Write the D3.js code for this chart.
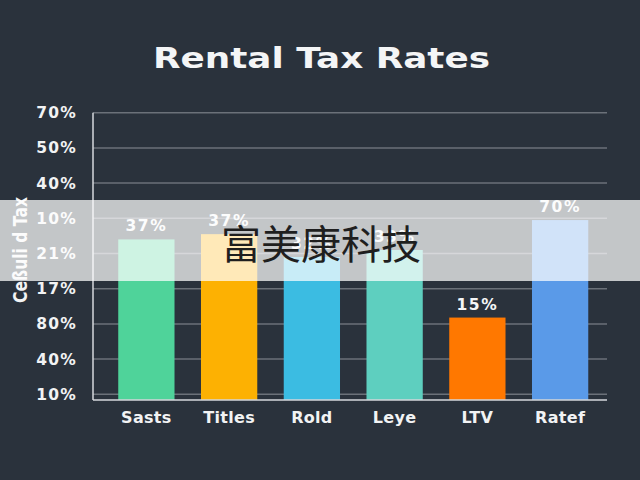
<!DOCTYPE html>
<html>
<head>
<meta charset="utf-8">
<script src="https://cdn.jsdelivr.net/npm/d3@7"></script>
<style>
html,body{margin:0;padding:0;background:#2a323c;}
svg{display:block;}
text{font-family:"DejaVu Sans",sans-serif;font-weight:bold;}
</style>
</head>
<body>
<script>
const title = "Rental Tax Rates";
const yAxisTitle = "Ceßuli d Tax";
const categories = ["Sasts","Titles","Rold","Leye","LTV","Ratef"];
const barValues = [4.40, 4.55, 3.90, 4.10, 2.18, 4.95];
const valueLabels = ["37%","37%","32%","33%","15%","70%"];
const barColors = ["#4fd39a","#fdb102","#3bbce2","#5ecfbf","#ff7800","#5a9ae8"];
const tickLabels = ["10%","40%","80%","17%","21%","10%","40%","50%","70%"];
const watermark = "富美康科技";

const W = 640, H = 480;
const svg = d3.select("body").append("svg").attr("width", W).attr("height", H);
svg.append("rect").attr("width", W).attr("height", H).attr("fill", "#2a323c");

const left = 93, right = 607;
const x = d3.scaleBand().domain(categories).range([105, 601.5]).paddingInner(0.32).paddingOuter(0.16);
const y = d3.scaleLinear().domain([0, tickLabels.length - 1]).range([394.3, 112.7]);
const base = -0.16;

// gridlines
svg.append("g").selectAll("line").data(tickLabels.map((d,i)=>i)).join("line")
  .attr("x1", left).attr("x2", right)
  .attr("y1", d=>y(d)).attr("y2", d=>y(d))
  .attr("stroke", "#6b7179").attr("stroke-width", 1.5);

// tick labels
svg.append("g").selectAll("text").data(tickLabels).join("text")
  .attr("x", 77).attr("y", (d,i)=>y(i)).attr("dy", "0.36em")
  .attr("text-anchor", "end").attr("fill", "#f2f3f4")
  .attr("font-size", 15.5).attr("letter-spacing", 1.2)
  .text(d=>d);

// bars
svg.append("g").selectAll("rect").data(categories).join("rect")
  .attr("x", d=>x(d)).attr("width", x.bandwidth())
  .attr("y", (d,i)=>y(barValues[i])).attr("height", (d,i)=>y(base)-y(barValues[i]))
  .attr("fill", (d,i)=>barColors[i]);

// value labels
svg.append("g").selectAll("text").data(categories).join("text")
  .attr("x", d=>x(d)+x.bandwidth()/2).attr("y", (d,i)=>y(barValues[i]) - 8)
  .attr("text-anchor", "middle").attr("fill", "#f5f6f7")
  .attr("font-size", 15.5).attr("letter-spacing", 1.5)
  .text((d,i)=>valueLabels[i]);

// axes lines
svg.append("line").attr("x1", left).attr("x2", left).attr("y1", y(tickLabels.length-1)).attr("y2", y(base))
  .attr("stroke", "#d6d9dc").attr("stroke-width", 1.5);
svg.append("line").attr("x1", left).attr("x2", right).attr("y1", y(base)).attr("y2", y(base))
  .attr("stroke", "#d6d9dc").attr("stroke-width", 1.5);

// category labels
svg.append("g").selectAll("text").data(categories).join("text")
  .attr("x", d=>x(d)+x.bandwidth()/2).attr("y", 423)
  .attr("text-anchor", "middle").attr("fill", "#f2f3f4")
  .attr("font-size", 16).attr("letter-spacing", 0.3)
  .text(d=>d);

// title
svg.append("text").attr("x", 321.5).attr("y", 68.3).attr("text-anchor", "middle")
  .attr("fill", "#f4f5f6").attr("font-size", 28)
  .attr("textLength", 337).attr("lengthAdjust", "spacingAndGlyphs")
  .text(title);

// y axis title
svg.append("text").attr("transform", "translate(27,250) rotate(-90)")
  .attr("text-anchor", "middle").attr("fill", "#f2f3f4").attr("font-size", 20)
  .attr("textLength", 106).attr("lengthAdjust", "spacingAndGlyphs")
  .text(yAxisTitle);

// watermark band
svg.append("rect").attr("x", 0).attr("y", 200).attr("width", W).attr("height", 81)
  .attr("fill", "#ffffff").attr("fill-opacity", 0.72);
svg.append("text").attr("x", 321).attr("y", 245).attr("dy", "0.36em")
  .attr("text-anchor", "middle").attr("fill", "#1f1f1f")
  .style("font-family", "'Noto Sans CJK SC',sans-serif").style("font-weight", "normal")
  .attr("font-size", 40)
  .text(watermark);
</script>
</body>
</html>
